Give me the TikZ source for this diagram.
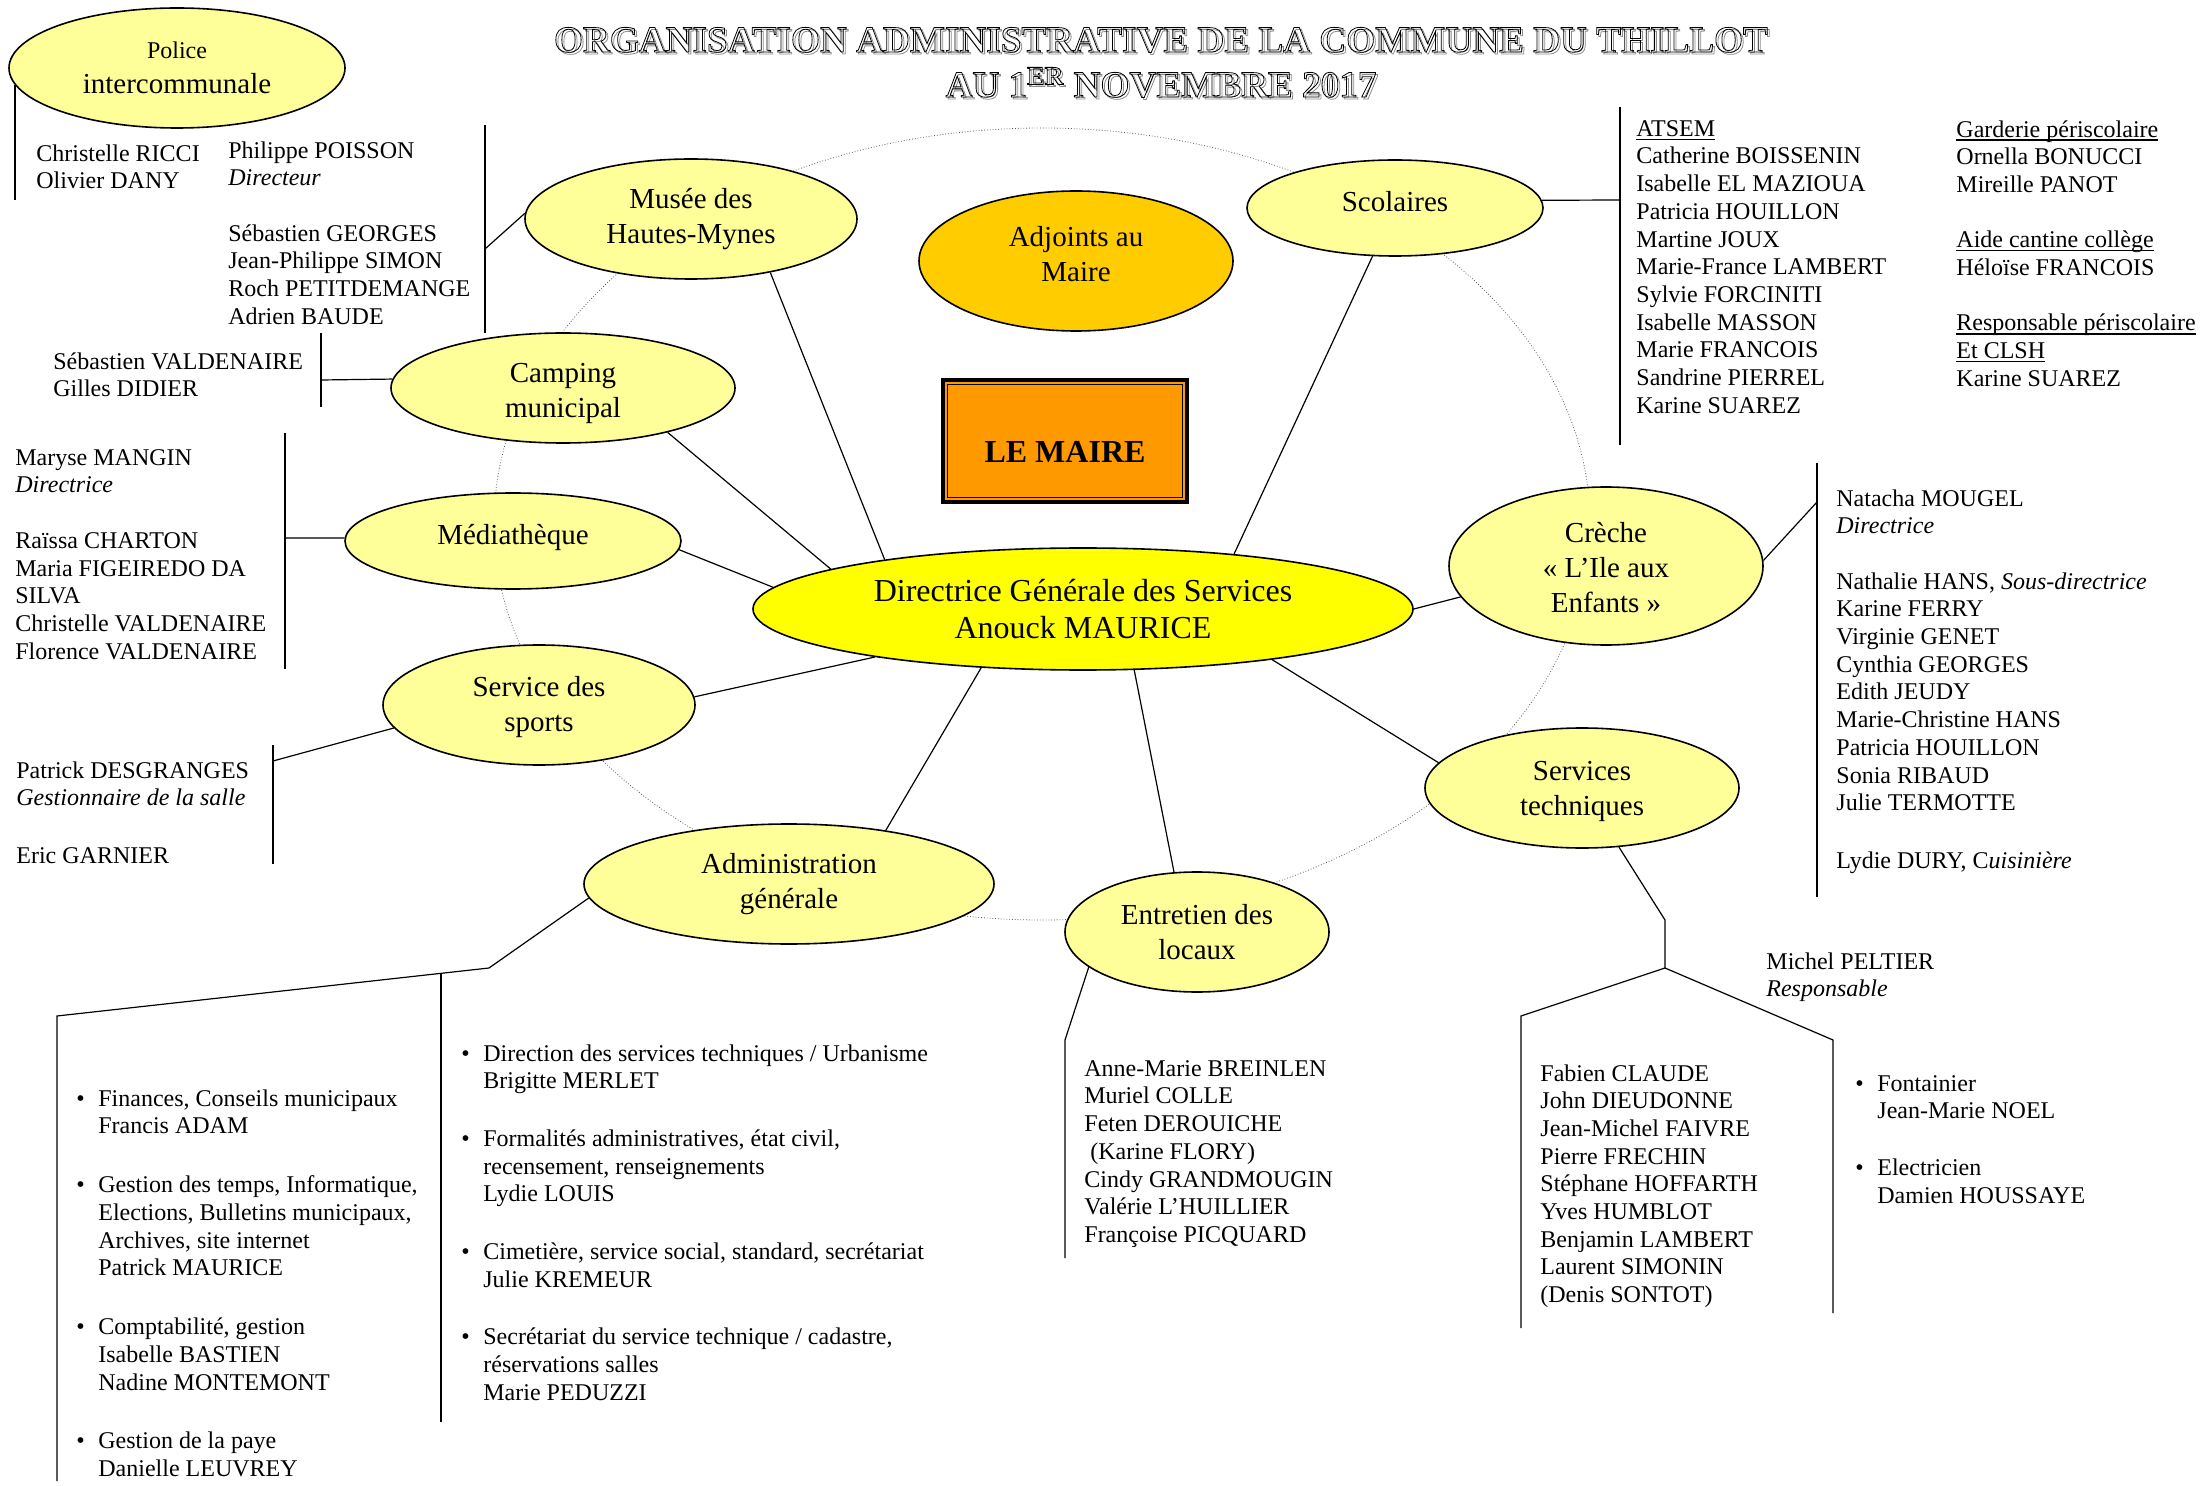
\documentclass[tikz,border=0pt]{standalone}
\usepackage{fontspec}
\setmainfont{Liberation Serif}
\usetikzlibrary{shapes.geometric}

\definecolor{pale}{HTML}{FFFF99}
\definecolor{dgscol}{HTML}{FFFF00}
\definecolor{adjointcol}{HTML}{FFCC00}
\definecolor{mairecol}{HTML}{FF9900}

\tikzset{
  service/.style={ellipse, draw, line width=0.8pt, fill=pale, inner sep=0pt, align=center, font=\fontsize{14.5}{17.5}\selectfont},
  names/.style={anchor=north west, inner sep=0pt, align=left, font=\fontsize{12}{13.85}\selectfont},
  link/.style={line width=0.6pt},
  orbit/.style={densely dotted, line width=0.4pt, black!65},
  titre/.style={anchor=base, inner sep=0pt, font=\bfseries\fontsize{18.6}{22}\selectfont}
}
\newcommand{\puce}{\makebox[11pt][l]{\textbullet}}
\newcommand{\retrait}{\hspace*{11pt}}
\newcommand{\contour}[1]{\special{pdf:literal direct 1 Tr 0.4 w}#1\special{pdf:literal direct 0 Tr}}
\newsavebox{\soulbox}
\newcommand{\souligne}[1]{\sbox\soulbox{#1}\rlap{\rule[-1.8pt]{\wd\soulbox}{0.6pt}}\usebox\soulbox}

\begin{document}
\begin{tikzpicture}[x=0.5pt, y=-0.5pt]
\useasboundingbox (0,0) rectangle (2201,1486);

\draw[orbit] (1042,524) ellipse [x radius=548, y radius=396];

\node[service, minimum width=168pt, minimum height=60pt] (police) at (177,68) {{\fontsize{12}{14}\selectfont Police}\\intercommunale};
\node[service, minimum width=166pt, minimum height=60pt] (musee) at (691,219) {Musée des\\Hautes-Mynes};
\node[service, minimum width=157pt, minimum height=70pt, fill=adjointcol] (adjoints) at (1076,261) {Adjoints au\\Maire\rule[-7pt]{0pt}{0pt}};
\node[service, minimum width=148pt, minimum height=48pt] (scolaires) at (1395,208) {Scolaires\rule[-7pt]{0pt}{0pt}};
\node[service, minimum width=172pt, minimum height=55pt] (camping) at (563,388) {\rule{0pt}{15pt}Camping\\municipal};
\node[service, minimum width=168pt, minimum height=48pt] (media) at (513,541) {Médiathèque\rule[-7pt]{0pt}{0pt}};
\node[service, minimum width=156pt, minimum height=60pt] (sports) at (539,705) {\rule{0pt}{12.5pt}Service des\\sports};
\node[service, minimum width=205pt, minimum height=60pt] (admin) at (789,884) {Administration\\générale};
\node[service, minimum width=132pt, minimum height=60pt] (entretien) at (1197,932) {Entretien des\\locaux};
\node[service, minimum width=157pt, minimum height=60pt] (services) at (1582,788) {\rule{0pt}{13pt}Services\\techniques};
\node[service, minimum width=157pt, minimum height=79pt] (creche) at (1606,566) {\rule{0pt}{12pt}Crèche\\« L’Ile aux\\Enfants »};
\node[service, minimum width=330pt, minimum height=61pt, fill=dgscol, font=\fontsize{16}{18.5}\selectfont] (dgs) at (1083,609) {Directrice Générale des Services\\Anouck MAURICE};

\node[rectangle, draw, line width=2pt, fill=mairecol, minimum width=122pt, minimum height=61pt, font=\bfseries\fontsize{16}{19}\selectfont] (maire) at (1065,441) {\rule{0pt}{22pt}LE MAIRE};
\draw[line width=0.5pt] ([shift={(3.3pt,3.3pt)}]maire.south west) rectangle ([shift={(-3.3pt,-3.3pt)}]maire.north east);

\draw[link] (dgs.176) -- (media.-3);
\draw[link] (dgs.171) -- (camping.-23);
\draw[link] (dgs.166) -- (musee.-34);
\draw[link] (dgs.20) -- (scolaires.-115);
\draw[link] (dgs.0) -- (creche.-168);
\draw[link] (dgs.-15) -- (services.170);
\draw[link] (dgs.-50) -- (entretien.111);
\draw[link] (dgs.-150) -- (admin.29);
\draw[link] (dgs.-167) -- (sports.3);

\coordinate (policebas) at (17,200);
\coordinate (museehaut) at (485,125);
\coordinate (museepli) at (485,249);
\coordinate (museebas) at (485,333);
\coordinate (camphaut) at (321,333);
\coordinate (camppli) at (321,380);
\coordinate (campbas) at (321,407);
\coordinate (mediahaut) at (285,433);
\coordinate (mediapli) at (285,538);
\coordinate (mediabas) at (285,669);
\coordinate (sportshaut) at (273,745);
\coordinate (sportspli) at (273,761);
\coordinate (sportsbas) at (273,864);
\coordinate (adminpli) at (489,968);
\coordinate (admincoin) at (57,1016);
\coordinate (adminbas) at (57,1481);
\coordinate (adminjonc) at (441,973.3);
\coordinate (adminbas2) at (441,1422);
\coordinate (entpli) at (1065,1040);
\coordinate (entbas) at (1065,1258);
\coordinate (stpli) at (1665,920);
\coordinate (stnoeud) at (1665,968);
\coordinate (stgauche) at (1521,1016);
\coordinate (stgauchebas) at (1521,1328);
\coordinate (stdroite) at (1833,1040);
\coordinate (stdroitebas) at (1833,1313);
\coordinate (crechepli) at (1817,502);
\coordinate (crechehaut) at (1817,463);
\coordinate (crechebas) at (1817,897);
\coordinate (scolpli) at (1620,200);
\coordinate (scolhaut) at (1620,107);
\coordinate (scolbas) at (1620,445);

\draw[link] (police.-174) -- (police.-174 |- policebas);
\draw[link] (museehaut) -- (museebas);
\draw[link] (musee.178) -- (museepli);
\draw[link] (camphaut) -- (campbas);
\draw[link] (camping.177) -- (camppli);
\draw[link] (mediahaut) -- (mediabas);
\draw[link] (media.179) -- (mediapli);
\draw[link] (sportshaut) -- (sportsbas);
\draw[link] (sports.-171) -- (sportspli);
\draw[link] (admin.-176) -- (adminpli) -- (admincoin) -- (adminbas);
\draw[link] (adminjonc) -- (adminbas2);
\draw[link] (entretien.-162) -- (entpli) -- (entbas);
\draw[link] (services.-58) -- (stpli) -- (stnoeud);
\draw[link] (stgauchebas) -- (stgauche) -- (stnoeud) -- (stdroite) -- (stdroitebas);
\draw[link] (creche.2) -- (crechepli);
\draw[link] (crechehaut) -- (crechebas);
\draw[link] (scolaires.3) -- (scolpli);
\draw[link] (scolhaut) -- (scolbas);

\node[names] (policenoms) at (36,144) {Christelle RICCI\\Olivier DANY};
\node[names] (museedir) at (228,141) {Philippe POISSON\\\textit{Directeur}};
\node[names] (museenoms) at (228,224) {Sébastien GEORGES\\Jean-Philippe SIMON\\Roch PETITDEMANGE\\Adrien BAUDE};
\node[names] (campnoms) at (53,352) {Sébastien VALDENAIRE\\Gilles DIDIER};
\node[names] (medianoms) at (15,449) {Maryse MANGIN\\\textit{Directrice}\\[13.85pt]Raïssa CHARTON\\Maria FIGEIREDO DA\\SILVA\\Christelle VALDENAIRE\\Florence VALDENAIRE};
\node[names] (sportsnoms) at (16,761) {Patrick DESGRANGES\\\textit{Gestionnaire de la salle}\\[15pt]Eric GARNIER};
\node[names] (atsem) at (1636,120) {\souligne{ATSEM}\\Catherine BOISSENIN\\Isabelle EL MAZIOUA\\Patricia HOUILLON\\Martine JOUX\\Marie-France LAMBERT\\Sylvie FORCINITI\\Isabelle MASSON\\Marie FRANCOIS\\Sandrine PIERREL\\Karine SUAREZ};
\node[names] (garderie) at (1956,120) {\souligne{Garderie périscolaire}\\Ornella BONUCCI\\Mireille PANOT\\[13.85pt]\souligne{Aide cantine collège}\\Héloïse FRANCOIS\\[13.85pt]\souligne{Responsable périscolaire}\\\souligne{Et CLSH}\\Karine SUAREZ};
\node[names] (crechenoms) at (1836,489) {Natacha MOUGEL\\\textit{Directrice}\\[13.85pt]Nathalie HANS, \textit{Sous-directrice}\\Karine FERRY\\Virginie GENET\\Cynthia GEORGES\\Edith JEUDY\\Marie-Christine HANS\\Patricia HOUILLON\\Sonia RIBAUD\\Julie TERMOTTE\\[15pt]Lydie DURY, C\textit{uisinière}};
\node[names] (entnoms) at (1084,1060) {Anne-Marie BREINLEN\\Muriel COLLE\\Feten DEROUICHE\\\hspace*{3pt}(Karine FLORY)\\Cindy GRANDMOUGIN\\Valérie L’HUILLIER\\Françoise PICQUARD};
\node[names] (stnoms) at (1540,1064) {Fabien CLAUDE\\John DIEUDONNE\\Jean-Michel FAIVRE\\Pierre FRECHIN\\Stéphane HOFFARTH\\Yves HUMBLOT\\Benjamin LAMBERT\\Laurent SIMONIN\\(Denis SONTOT)};
\node[names] (peltier) at (1766,952) {Michel PELTIER\\\textit{Responsable}};
\node[names] (stpuces) at (1855,1075) {\puce Fontainier\\\retrait Jean-Marie NOEL\\[14.6pt]\puce Electricien\\\retrait Damien HOUSSAYE};
\node[names] (admingauche) at (76,1089) {\puce Finances, Conseils municipaux\\\retrait Francis ADAM\\[15.6pt]\puce Gestion des temps, Informatique,\\\retrait Elections, Bulletins municipaux,\\\retrait Archives, site internet\\\retrait Patrick MAURICE\\[15.6pt]\puce Comptabilité, gestion\\\retrait Isabelle BASTIEN\\\retrait Nadine MONTEMONT\\[15.6pt]\puce Gestion de la paye\\\retrait Danielle LEUVREY};
\node[names] (admindroite) at (461,1044) {\puce Direction des services techniques / Urbanisme\\\retrait Brigitte MERLET\\[15pt]\puce Formalités administratives, état civil,\\\retrait recensement, renseignements\\\retrait Lydie LOUIS\\[15pt]\puce Cimetière, service social, standard, secrétariat\\\retrait Julie KREMEUR\\[15pt]\puce Secrétariat du service technique / cadastre,\\\retrait réservations salles\\\retrait Marie PEDUZZI};

\node[titre, text=black!45] (ombre1) at (1163,54) {\contour{ORGANISATION ADMINISTRATIVE DE LA COMMUNE DU THILLOT}};
\node[titre, text=black!45] (ombre2) at (1163,99) {\contour{AU 1\textsuperscript{ER} NOVEMBRE 2017}};
\node[titre] (titre1) at (1161,52) {\contour{ORGANISATION ADMINISTRATIVE DE LA COMMUNE DU THILLOT}};
\node[titre] (titre2) at (1161,97) {\contour{AU 1\textsuperscript{ER} NOVEMBRE 2017}};
\end{tikzpicture}
\end{document}
